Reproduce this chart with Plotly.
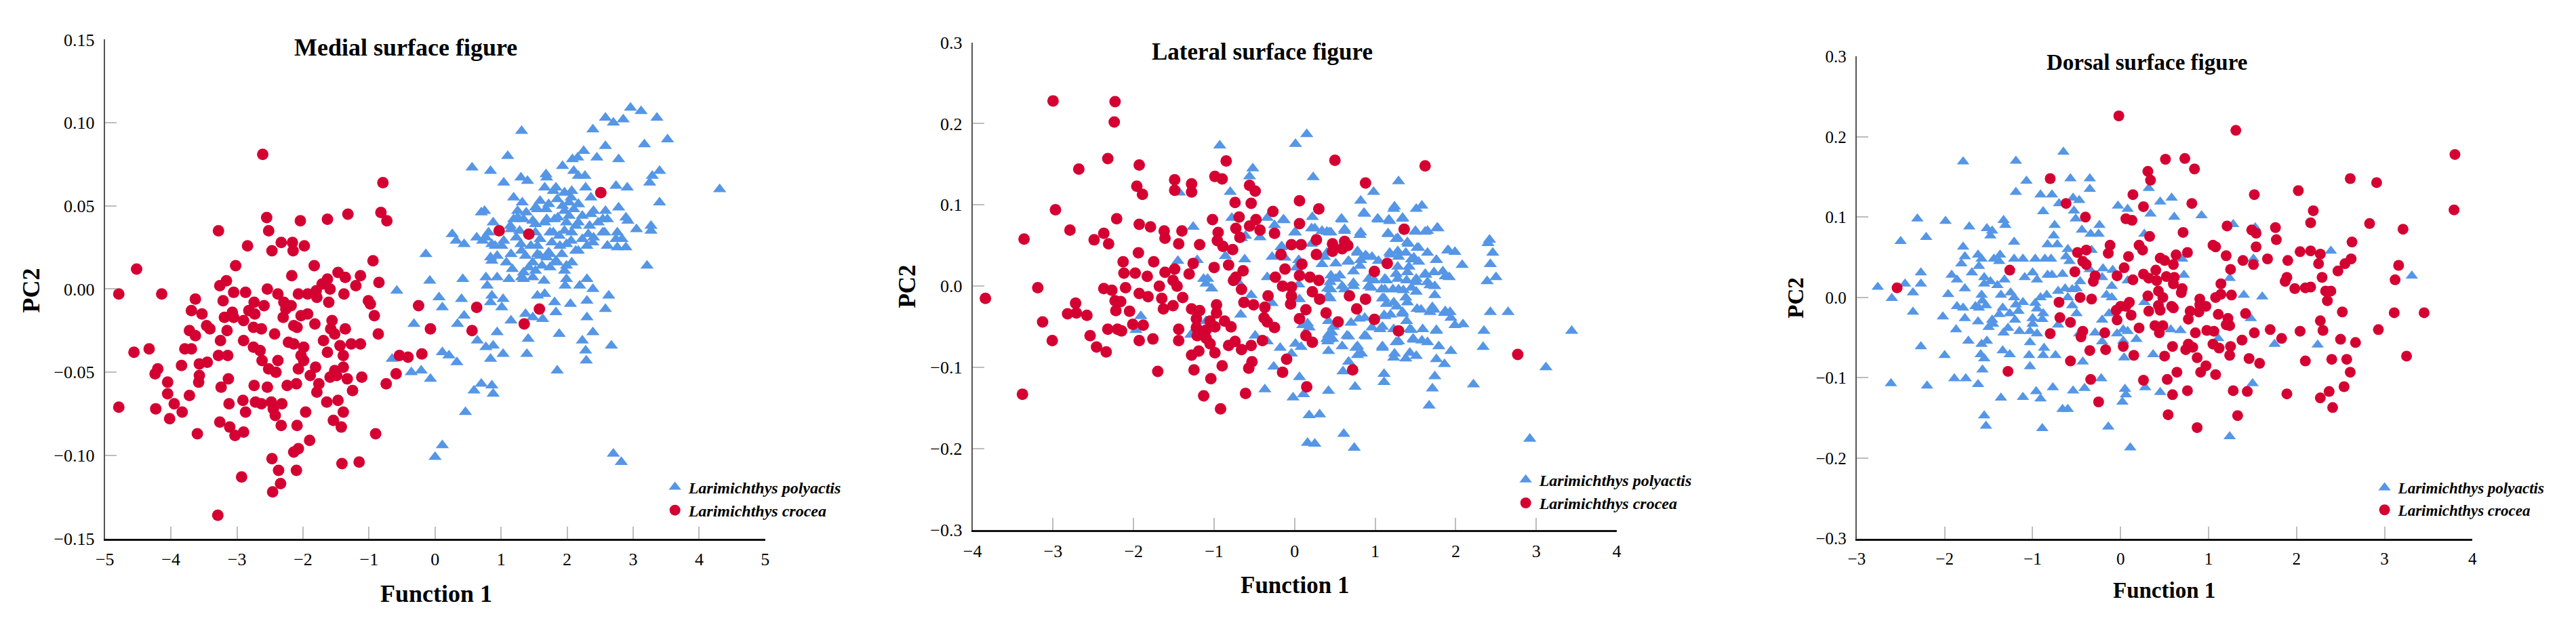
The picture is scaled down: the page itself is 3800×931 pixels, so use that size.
import plotly.graph_objects as go
from plotly.subplots import make_subplots

# Values: Function 1 (x) and PC2 (y) per species

# --- Medial surface ---
MEDIAL_POLY_F1 = [
    2.96, 3.12, 3.36, 2.58, 2.70, 2.85, 2.39, 1.31, 3.52, 3.17,
    2.58, 2.25, 2.45, 2.78, 1.10, 2.08, 2.16, 1.93, 0.56, 0.84,
    3.40, 3.29, 3.25, 1.04, 1.30, 1.40, 1.68, 2.10, 2.17, 2.27,
    4.31, 2.91, 2.74, 2.28, 1.66, 1.79, 1.96, 2.07, 3.40, 1.19,
    1.32, 1.59, 1.85, 2.03, 2.17, 2.36, 2.78, 0.75, 0.70, 1.25,
    1.52, 1.68, 1.96, 2.10, 2.36, 2.58, 2.89, 2.92, 3.27, 3.27,
    3.05, 0.88, 1.19, 1.34, 1.48, 1.66, 1.81, 1.99, 2.17, 2.47,
    2.61, 0.26, 0.32, 0.44, 0.63, 0.72, 0.81, 1.15, 1.23, 1.52,
    1.74, 1.88, 2.07, 2.32, 2.54, 2.76, 2.83, 2.39, 2.61, 2.89,
    2.76, 0.86, 1.01, 1.30, 1.55, 1.77, 1.99, 2.17, -0.14, 0.94,
    1.15, 1.37, 1.59, 1.74, 1.92, 0.86, 1.08, 1.48, 1.85, 2.07,
    3.21, 1.17, 1.34, 1.52, 1.74, 1.96, 0.77, 0.94, 1.12, 1.34,
    1.65, 1.99, 2.30, 1.97, 2.19, 2.39, -0.08, 0.42, -0.58, 0.79,
    0.86, 0.84, 1.03, 1.01, 0.06, 0.40, 0.11, 1.55, 1.66, 1.81,
    1.83, 2.05, 2.30, 2.63, 2.58, 2.30, 0.44, 0.34, -0.32, 1.15,
    1.37, 1.48, 1.63, 0.94, 1.41, 1.88, 2.39, 2.23, 2.67, 0.64,
    0.77, 0.88, 1.03, 0.84, 1.39, 2.28, 2.29, 0.11, 0.21, 0.33,
    -0.65, -0.36, -0.21, -0.07, 1.85, 0.59, 0.70, 0.86, 0.88, 0.46,
    0.11, 0.00, 2.70, 2.82,
    1.69, 1.83, 1.96, 2.06, 2.17, 1.93, 1.72, 1.55, 1.38, 1.25,
    1.14, 1.28, 1.52, 1.69, 1.86, 2.03, 2.23, 2.40, 2.54, 2.34,
    2.13, 1.96, 1.79, 1.59, 1.45, 1.31, 1.55, 1.72, 1.89, 2.06,
    2.23, 2.40, 2.57, 2.74, 2.61, 2.30, 2.13, 1.83, 1.62, 1.42,
    1.99, 1.48, 1.31, 1.69, 1.04, 0.91, 0.84, 0.77,
]
MEDIAL_POLY_PC2 = [
    0.109, 0.107, 0.103, 0.103, 0.100, 0.102, 0.096, 0.095, 0.090, 0.087,
    0.086, 0.083, 0.079, 0.078, 0.080, 0.078, 0.079, 0.074, 0.073, 0.071,
    0.071, 0.068, 0.064, 0.064, 0.067, 0.065, 0.069, 0.071, 0.068, 0.068,
    0.060, 0.061, 0.062, 0.061, 0.061, 0.059, 0.058, 0.059, 0.052, 0.055,
    0.052, 0.053, 0.054, 0.052, 0.051, 0.055, 0.049, 0.047, 0.046, 0.047,
    0.049, 0.048, 0.047, 0.048, 0.045, 0.047, 0.043, 0.041, 0.038, 0.035,
    0.036, 0.040, 0.042, 0.042, 0.041, 0.040, 0.042, 0.040, 0.040, 0.040,
    0.042, 0.033, 0.029, 0.027, 0.031, 0.029, 0.034, 0.036, 0.031, 0.034,
    0.034, 0.032, 0.034, 0.033, 0.034, 0.034, 0.030, 0.028, 0.026, 0.025,
    0.025, 0.027, 0.026, 0.027, 0.026, 0.028, 0.027, 0.023, 0.021, 0.020,
    0.021, 0.020, 0.020, 0.021, 0.021, 0.017, 0.016, 0.016, 0.016, 0.016,
    0.014, 0.012, 0.010, 0.011, 0.013, 0.011, 0.007, 0.007, 0.006, 0.006,
    0.005, 0.006, 0.006, 0.002, 0.002, 0.000, 0.005, 0.006, -0.001, 0.002,
    -0.004, -0.008, -0.006, -0.011, -0.005, -0.006, -0.011, -0.004, -0.003, -0.008,
    -0.014, -0.009, -0.007, -0.004, -0.012, -0.017, -0.016, -0.021, -0.021, -0.019,
    -0.015, -0.017, -0.018, -0.026, -0.030, -0.027, -0.026, -0.031, -0.034, -0.031,
    -0.035, -0.034, -0.039, -0.042, -0.039, -0.037, -0.043, -0.038, -0.040, -0.044,
    -0.042, -0.050, -0.049, -0.054, -0.049, -0.061, -0.057, -0.058, -0.063, -0.074,
    -0.094, -0.101, -0.099, -0.104,
    0.067, 0.061, 0.058, 0.055, 0.051, 0.050, 0.051, 0.048, 0.046, 0.043,
    0.038, 0.035, 0.039, 0.042, 0.043, 0.044, 0.044, 0.047, 0.042, 0.038,
    0.038, 0.035, 0.034, 0.030, 0.026, 0.023, 0.021, 0.022, 0.026, 0.029,
    0.030, 0.031, 0.034, 0.030, 0.026, 0.026, 0.023, 0.017, 0.014, 0.013,
    0.014, 0.007, 0.007, 0.019, 0.029, 0.026, 0.019, 0.031,
]
MEDIAL_CROC_F1 = [
    -2.61, -0.79, -2.55, -2.04, -1.63, -1.32, -0.82, -0.73, -3.28, -2.52,
    -2.84, -2.33, -2.16, -2.15, -2.47, -1.98, -0.94, -4.52, -3.02, -1.83,
    -2.17, -4.79, -4.14, -3.26, -3.16, -3.05, -2.87, -2.54, -2.38, -1.47,
    -1.36, -1.13, -0.85, -1.63, -1.71, -1.80, -1.93, -2.07, -1.59, -1.38,
    -1.20, -1.01, -0.98, -0.92, -0.86, -1.61, -3.63, -3.69, -3.53, -3.21,
    -2.74, -2.59, -2.29, -2.26, -2.30, -2.18, -2.03, -1.93, -1.79, -3.19,
    -3.07, -3.05, -2.90, -2.82, -2.73, -2.75, -2.63, -3.46, -3.41, -3.72,
    -3.63, -3.15, -3.25, -2.43, -2.14, -2.09, -1.82, -1.56, -1.58, -1.52,
    -1.36, -2.90, -2.75, -2.65, -2.22, -2.14, -1.99, -1.69, -1.63, -1.44,
    -1.27, -1.13, -4.33, -4.56, -3.79, -3.69, -3.28, -3.14, -2.62, -2.38,
    -2.03, -1.99, -1.39, -3.84, -3.57, -3.45, -4.20, -4.24, -2.52, -2.41,
    -2.07, -1.81, -1.52, -1.39, -1.49, -1.59, -1.33, -1.11, -0.59, -0.74,
    -0.54, -0.41, -0.20, -0.25, -0.07, -3.57, -3.58, -3.13, -3.24, -4.05,
    -4.05, -3.72, -2.74, -2.54, -2.24, -2.10, -1.89, -1.76, -1.79, -1.25,
    -3.95, -3.83, -4.02, -4.23, -4.79, -3.12, -2.91, -2.87, -2.72, -2.63,
    -2.48, -2.45, -2.42, -2.32, -1.96, -1.64, -1.47, -1.39, -1.54, -1.42,
    -3.26, -3.11, -3.03, -2.90, -3.60, -2.33, -2.09, -1.90, -0.90, -2.14,
    -2.07, -2.47, -2.37, -2.10, -1.41, -1.15, -2.93, -2.34, -2.46, -3.29,
    0.97, 1.42, 2.51, 1.58, 1.35, 0.63, 0.56,
]
MEDIAL_CROC_PC2 = [
    0.081, 0.064, 0.043, 0.041, 0.042, 0.045, 0.046, 0.041, 0.035, 0.035,
    0.026, 0.028, 0.028, 0.023, 0.023, 0.026, 0.017, 0.012, 0.014, 0.014,
    0.008, -0.003, -0.003, 0.002, 0.005, -0.002, -0.002, 0.000, -0.003, 0.010,
    0.007, 0.008, 0.004, 0.006, 0.003, -0.001, -0.003, -0.003, 0.000, -0.003,
    0.002, -0.007, -0.009, -0.016, -0.027, -0.008, -0.006, -0.013, -0.015, -0.007,
    -0.008, -0.010, -0.008, -0.012, -0.017, -0.010, -0.016, -0.015, -0.005, -0.017,
    -0.014, -0.017, -0.019, -0.013, -0.015, -0.023, -0.024, -0.022, -0.024, -0.025,
    -0.028, -0.025, -0.031, -0.027, -0.022, -0.023, -0.021, -0.019, -0.024, -0.027,
    -0.024, -0.031, -0.035, -0.037, -0.032, -0.033, -0.035, -0.031, -0.038, -0.034,
    -0.033, -0.033, -0.036, -0.038, -0.036, -0.036, -0.040, -0.040, -0.043, -0.043,
    -0.040, -0.043, -0.040, -0.046, -0.045, -0.044, -0.048, -0.051, -0.048, -0.050,
    -0.048, -0.047, -0.049, -0.047, -0.052, -0.053, -0.054, -0.053, -0.051, -0.057,
    -0.040, -0.041, -0.039, -0.010, -0.024, -0.052, -0.056, -0.054, -0.059, -0.056,
    -0.063, -0.064, -0.058, -0.059, -0.058, -0.057, -0.052, -0.057, -0.062, -0.061,
    -0.069, -0.074, -0.078, -0.072, -0.071, -0.069, -0.067, -0.074, -0.068, -0.069,
    -0.068, -0.072, -0.076, -0.069, -0.074, -0.068, -0.067, -0.074, -0.079, -0.083,
    -0.080, -0.083, -0.088, -0.086, -0.087, -0.082, -0.082, -0.091, -0.087, -0.098,
    -0.096, -0.102, -0.109, -0.109, -0.105, -0.104, -0.113, -0.117, -0.122, -0.136,
    0.035, 0.033, 0.058, -0.012, -0.021, -0.011, -0.025,
]

# --- Lateral surface ---
LATERAL_POLY_F1 = [
    -0.93, 0.01, 0.15, -0.52, -0.56, 0.23, -0.80, -1.43, -0.78, -0.34,
    -0.14, -0.25, -1.26, 0.22, 0.25, 0.40, 0.01, -0.43, -0.61, -0.17,
    -0.28, -0.12, -0.86, -0.62, -1.45, -1.21, 0.21, 0.40, 0.34, 0.45,
    0.41, 0.02, 0.05, -0.34, -1.08, -1.10, -1.03, -0.70, -0.54, -0.28,
    0.06, 0.44, -0.67, 0.16, 0.42, 0.42, 0.41, 0.18, -0.49, -0.34,
    -0.18, 0.01, 0.08, -0.04, 0.42, -0.26, 0.06, -0.37, -0.02, 0.11,
    0.42, 0.18, 0.31, 0.16, 0.25, -1.91, -1.97, -1.29, -1.10, -0.66,
    -1.13,
    1.29, 0.98, 0.82, 1.24, 1.58, 0.86, 0.58, 1.03, 1.17, 1.34,
    0.82, 1.16, 1.50, 1.65, 1.77, 2.42, 2.40, 2.46, 2.43, 2.50,
    2.39, 1.91, 1.99, 1.76, 2.08, 1.84, 1.92, 1.28, 1.41, 1.52,
    1.28, 1.19, 1.38, 1.48, 0.78, 0.88, 0.96, 0.66, 0.82, 1.28,
    1.42, 1.54, 1.63, 0.73, 0.56, 0.99, 1.14, 1.28, 1.39, 1.51,
    1.65, 1.74, 0.59, 0.73, 0.92, 1.08, 1.22, 1.35, 1.51, 1.74,
    1.11, 1.38, 1.14, 1.27, 1.52, 1.71, 1.68, 1.86, 1.93, 1.94,
    2.43, 2.65, 1.11, 1.19, 1.34, 0.80, 1.09, 0.96, 1.39, 1.45,
    1.76, 1.99, 2.09, 2.35, 3.44, 0.46, 0.47, 0.67, 0.89, 1.29,
    1.47, 1.58, 0.76, 0.83, 1.09, 1.24, 1.38, 1.51, 1.94, 2.34,
    1.76, 1.86, 3.12, 0.67, 0.60, 1.11, 1.11, 0.75, 1.74, 1.71,
    2.22, 1.67, 0.61, 2.92, 0.74,
    -0.13, 0.00, 0.21, 0.34, 0.43, 0.62, -0.16, 0.05, 0.44, 0.10,
    0.40,
    0.59, 0.87, 1.04, 1.18, 1.34, 1.51, 1.23, 1.78, 1.62, 1.50,
    1.16, 1.26, 1.40, 1.54, 1.65, 1.90, 1.76, 1.45, 1.29, 1.18,
    1.04, 0.90, 0.78, 0.81, 0.62, 0.45, 0.37, 0.51, 0.67, 0.81,
    0.92, 1.12, 1.26, 1.40, 1.51, 1.62, 1.73, 1.87, 1.68, 1.45,
    1.29, 1.12, 0.95, 0.73, 0.51, 0.45, 0.62, 0.42, 1.09, 1.23,
    1.40, 1.57, 1.73, 1.87, 1.34, 1.12, 0.87, 0.70, 0.48, 0.65,
    0.87, 1.06, 1.23, 1.43, 1.59, 1.76, 0.42, 0.59, 0.78, 1.09,
    1.26, 1.48, 1.65, 1.79, 1.43, 1.23, 0.78,
]
LATERAL_POLY_PC2 = [
    0.173, 0.175, 0.187, 0.145, 0.135, 0.134, 0.116, 0.115, 0.084, 0.084,
    0.082, 0.075, 0.073, 0.085, 0.071, 0.067, 0.066, 0.060, 0.062, 0.048,
    0.036, 0.035, 0.037, 0.033, 0.031, 0.032, 0.052, 0.041, 0.027, 0.013,
    -0.003, 0.023, 0.002, 0.011, 0.009, 0.003, -0.003, 0.005, -0.011, -0.021,
    -0.016, -0.015, -0.035, -0.046, -0.043, -0.060, -0.068, -0.051, -0.061, -0.068,
    -0.076, -0.071, -0.075, -0.083, -0.080, -0.099, -0.112, -0.127, -0.137, -0.133,
    -0.129, -0.159, -0.158, -0.193, -0.194, -0.037, -0.054, -0.060, -0.043, 0.059,
    0.009,
    0.129, 0.116, 0.105, 0.098, 0.099, 0.090, 0.083, 0.083, 0.082, 0.084,
    0.066, 0.065, 0.068, 0.068, 0.072, 0.057, 0.053, 0.041, 0.027, 0.011,
    0.006, 0.044, 0.042, 0.032, 0.026, 0.018, 0.011, 0.059, 0.052, 0.047,
    0.043, 0.039, 0.041, 0.035, 0.043, 0.038, 0.036, 0.030, 0.032, 0.024,
    0.024, 0.030, 0.014, 0.018, 0.013, 0.007, 0.007, 0.009, 0.007, 0.005,
    0.005, 0.000, 0.000, 0.000, 0.000, -0.004, -0.004, -0.005, -0.007, -0.011,
    -0.015, -0.014, -0.022, -0.025, -0.028, -0.026, -0.032, -0.033, -0.032, -0.039,
    -0.032, -0.032, -0.036, -0.035, -0.032, -0.040, -0.050, -0.051, -0.043, -0.054,
    -0.054, -0.048, -0.047, -0.055, -0.055, -0.057, -0.065, -0.062, -0.062, -0.068,
    -0.065, -0.067, -0.076, -0.083, -0.076, -0.083, -0.089, -0.086, -0.080, -0.075,
    -0.090, -0.096, -0.100, -0.093, -0.105, -0.108, -0.118, -0.124, -0.111, -0.126,
    -0.121, -0.147, -0.182, -0.188, -0.199,
    0.081, 0.066, 0.071, 0.068, 0.066, 0.070, 0.049, 0.032, 0.005, -0.048,
    -0.065,
    0.082, 0.089, 0.082, 0.080, 0.083, 0.095, 0.095, 0.071, 0.067, 0.067,
    0.064, 0.058, 0.054, 0.047, 0.041, 0.044, 0.032, 0.033, 0.036, 0.041,
    0.031, 0.036, 0.041, 0.063, 0.068, 0.066, 0.036, 0.028, 0.031, 0.025,
    0.009, 0.009, 0.015, 0.017, 0.009, 0.015, 0.017, 0.012, 0.001, -0.002,
    -0.004, -0.004, -0.002, 0.004, 0.009, -0.004, -0.004, -0.012, -0.015, -0.020,
    -0.020, -0.029, -0.029, -0.031, -0.034, -0.037, -0.039, -0.045, -0.050, -0.061,
    -0.061, -0.053, -0.053, -0.053, -0.053, -0.055, -0.066, -0.074, -0.074, -0.074,
    -0.069, -0.066, -0.069, -0.074, -0.082, -0.088, -0.085,
]
LATERAL_CROC_F1 = [
    -3.00, -2.23, -2.24, -2.32, -2.68, -1.93, -0.85, 0.50, -0.99, -0.90,
    -1.49, -1.49, -1.28, -1.28, -1.96, -1.89, -0.56, -0.49, -0.74, -0.54,
    0.06, 0.30, -2.97, -2.21, -0.27, -1.02, -0.69, -0.48, 0.06, -1.93,
    -1.79, -1.62, -1.40, -2.79, -3.36, -2.37, -2.49, -2.31, -1.61, -1.44,
    -1.18, -0.95, -0.96, -0.73, -0.68, -0.56, -0.43, -0.25, -0.89, -0.77,
    -0.04, 0.08, 0.27, 0.27, 0.47, 0.47, -1.94, -2.13, -1.75, -0.17,
    -1.26, -0.82, -1.00, -0.12, 0.09, -2.12, -1.98, -1.83, -1.61, -1.49,
    -1.31, -0.64, -0.73, -0.76, 0.06, 0.19, 0.30, -0.24, -3.19, -3.84,
    -2.37, -2.27, -2.10, -1.68, -1.51, -1.46, -0.15, -0.04, -0.66, -1.93,
    -1.82, -1.65, -1.39, -0.04, 0.22, 0.31, -0.33, -2.72, -2.23, -2.16,
    -2.22, -2.82, -2.71, -2.58, -3.13, -2.05, -1.63, -1.51, -0.63, -0.51,
    -0.37, -0.05, 0.14, 0.06, 0.39, 0.54, -1.28, -1.18, -0.97, -0.97,
    -1.22, -1.05, -0.87, -0.79, -0.38, -0.34, -0.25, -2.01, -1.88, -2.32,
    -2.20, -2.15, -1.44, -1.22, -1.10, -0.99, -1.21, -1.10, -2.54, -3.01,
    -1.93, -1.76, -1.44, -2.46, -2.34, -1.05, -0.99, -1.28, -1.19, -0.82,
    -0.74, -0.66, -0.54, -0.40, 0.14, 0.22, -0.53, -0.57, -0.10, -0.15,
    -0.90, -1.25, -1.70, -1.04, 0.15, -3.38, -1.13, -0.61, -0.92,
    1.62, 0.88, 1.36, 0.62, 0.66, 0.59, 1.15, 0.99, 0.68, 0.88,
    0.77, 0.99, 1.29, 0.72, 2.77,
]
LATERAL_CROC_PC2 = [
    0.228, 0.227, 0.202, 0.157, 0.144, 0.149, 0.154, 0.155, 0.135, 0.132,
    0.131, 0.118, 0.126, 0.116, 0.123, 0.113, 0.124, 0.117, 0.103, 0.102,
    0.105, 0.095, 0.094, 0.083, 0.092, 0.082, 0.085, 0.082, 0.077, 0.076,
    0.073, 0.068, 0.068, 0.069, 0.058, 0.065, 0.057, 0.052, 0.059, 0.052,
    0.051, 0.066, 0.056, 0.071, 0.060, 0.074, 0.069, 0.065, 0.049, 0.045,
    0.051, 0.051, 0.057, 0.039, 0.052, 0.043, 0.041, 0.030, 0.030, 0.039,
    0.028, 0.026, 0.023, 0.021, 0.027, 0.016, 0.016, 0.012, 0.017, 0.021,
    0.015, 0.019, 0.011, 0.007, 0.013, 0.011, 0.007, 0.011, -0.002, -0.015,
    -0.003, -0.005, -0.002, 0.000, 0.007, 0.000, 0.000, -0.001, -0.004, -0.009,
    -0.013, -0.015, -0.014, -0.012, -0.007, -0.016, -0.012, -0.021, -0.018, -0.019,
    -0.030, -0.034, -0.033, -0.036, -0.044, -0.031, -0.028, -0.024, -0.020, -0.023,
    -0.026, -0.022, -0.029, -0.040, -0.033, -0.044, -0.028, -0.030, -0.023, -0.033,
    -0.040, -0.043, -0.043, -0.050, -0.039, -0.044, -0.051, -0.047, -0.048, -0.053,
    -0.053, -0.055, -0.053, -0.051, -0.054, -0.050, -0.061, -0.064, -0.061, -0.067,
    -0.067, -0.065, -0.067, -0.075, -0.081, -0.071, -0.082, -0.085, -0.080, -0.073,
    -0.068, -0.078, -0.073, -0.067, -0.061, -0.069, -0.093, -0.101, -0.090, -0.106,
    -0.098, -0.103, -0.105, -0.114, -0.124, -0.133, -0.135, -0.132, -0.151,
    0.148, 0.127, 0.070, 0.055, 0.050, 0.046, 0.028, 0.018, -0.012, -0.016,
    -0.028, -0.041, -0.055, -0.103, -0.084,
]

# --- Dorsal surface ---
DORSAL_POLY_F1 = [
    -0.65, -1.79, -1.19, -1.07, -0.57, -0.35, -0.35, -1.19, -0.91, -0.78,
    -0.54, -0.47, -0.70, -0.53, -0.88, -0.51, 0.32, -0.03, 0.08, 0.45,
    0.58, 0.34, 0.61, 0.92, -2.31, -1.99, -1.72, -1.52, -1.46, -1.33,
    -1.31, -2.50, -2.21, -1.48, -1.21, -0.75, -0.76, -0.83, -0.72, -0.44,
    -0.34, -0.24, -0.25, 0.27, -1.79, -1.77, -1.81, -1.62, -1.58, -1.61,
    -1.44, -1.37, -1.38, -1.21, -1.11, -0.97, -0.86, -0.79, -0.60, -0.62,
    -0.58, -0.33, 0.70, -2.27, -2.27, -2.45, -2.76, -2.36, -2.60, -1.92,
    -1.86, -1.96, -1.77, -1.69, -1.55, -1.55, -1.48, -1.40, -1.32, -1.09,
    -1.00, -0.95, -0.83, -0.78, -0.66, -0.46, -0.35, -0.20, -0.09, -0.21,
    -0.10, 0.08, 0.72, -1.58, -1.57, -1.86, -1.79, -1.65, -1.61, -1.53,
    -1.36, -1.34, -1.25, -1.21, -1.19, -1.16, -1.26, -1.11, -0.97, -0.91,
    -0.84, -0.95, -0.88, -0.71, -0.63, -0.55, -0.50, -0.60, -0.55, -0.50,
    -0.16, -0.10, -0.13, -0.21, 0.27, -2.02, -2.36, -1.77, -1.62, -1.46,
    -1.45, -1.38, -1.20, -1.00, -1.00, -0.89, -1.87, -1.50, -1.33, -1.28,
    -1.15, -1.03, -0.95, -0.71, -0.47, -0.29, -0.04, 0.03, 0.08, 0.18,
    0.57, 0.68, -1.73, -1.58, -1.52, -1.03, -0.21, 0.03, -2.27, -2.00,
    -1.59, -1.55, -1.34, -1.26, -1.04, -0.87, -0.88, -0.74, 0.04, 0.37,
    -0.43, -1.57, -1.03, -2.61, -2.20, -1.89, -1.76, -1.62, -1.36, -1.11,
    -0.96, -0.91, -0.77, -0.54, -0.41, -0.22, 0.05, 0.06, 0.02, 0.28,
    0.45, -0.66, -0.60, -1.55, -1.53, -0.89, -0.14, 0.11, 1.24,
    1.28, 1.53, 1.51, 2.39, 1.24, 1.40, 1.61, 3.31, 1.48, 1.75,
    2.24, 1.11, 1.50,
]
DORSAL_POLY_PC2 = [
    0.181, 0.169, 0.170, 0.145, 0.148, 0.148, 0.135, 0.131, 0.128, 0.128,
    0.124, 0.121, 0.117, 0.108, 0.107, 0.098, 0.136, 0.114, 0.110, 0.119,
    0.124, 0.104, 0.100, 0.102, 0.098, 0.095, 0.088, 0.086, 0.083, 0.096,
    0.090, 0.070, 0.075, 0.077, 0.069, 0.090, 0.077, 0.066, 0.066, 0.084,
    0.079, 0.090, 0.079, 0.079, 0.063, 0.051, 0.042, 0.053, 0.048, 0.039,
    0.048, 0.053, 0.045, 0.048, 0.048, 0.048, 0.048, 0.048, 0.060, 0.051,
    0.045, 0.059, 0.048, 0.031, 0.017, 0.017, 0.013, 0.006, -0.001, 0.028,
    0.022, 0.004, 0.011, 0.031, 0.025, 0.017, 0.020, 0.015, 0.022, 0.025,
    0.031, 0.022, 0.028, 0.028, 0.029, 0.020, 0.035, 0.036, 0.034, 0.025,
    0.014, 0.021, 0.028, 0.003, -0.004, -0.011, -0.013, -0.011, -0.013, -0.010,
    0.003, -0.013, 0.006, 0.000, -0.009, -0.017, -0.020, -0.006, -0.007, 0.000,
    0.003, -0.014, -0.020, 0.008, 0.011, 0.010, 0.011, 0.000, -0.010, -0.020,
    0.003, 0.000, -0.020, -0.028, -0.006, -0.024, -0.018, -0.026, -0.030, -0.028,
    -0.033, -0.021, -0.028, -0.033, -0.026, -0.027, -0.040, -0.037, -0.044, -0.038,
    -0.042, -0.042, -0.045, -0.034, -0.045, -0.044, -0.045, -0.040, -0.042, -0.052,
    -0.040, -0.041, -0.054, -0.058, -0.054, -0.056, -0.055, -0.054, -0.061, -0.072,
    -0.071, -0.076, -0.066, -0.071, -0.072, -0.063, -0.072, -0.072, -0.075, -0.071,
    -0.080, -0.090, -0.086, -0.107, -0.110, -0.101, -0.101, -0.108, -0.125, -0.124,
    -0.117, -0.126, -0.112, -0.116, -0.113, -0.101, -0.114, -0.121, -0.130, -0.112,
    -0.118, -0.139, -0.139, -0.147, -0.160, -0.163, -0.161, -0.187, -0.173,
    0.091, 0.087, 0.048, 0.058, 0.024, 0.003, 0.001, 0.027, -0.026, -0.058,
    -0.059, -0.051, -0.107,
]
DORSAL_CROC_F1 = [
    -0.02, -0.80, 0.51, 0.73, 0.84, 0.31, 0.34, -0.62, 0.14, 0.26,
    0.81, -0.40, 0.06, 0.13, 1.21, 0.71, 0.33, 0.21, 0.25, -0.12,
    -0.14, -0.49, -0.39, 0.09, 0.63, 0.76, 1.05, 1.08, 1.20, -0.43,
    -0.39, 0.45, 0.50, 0.60, 0.04, -1.26, -0.52, 0.40, 1.25, -0.29,
    -0.31, -0.04, 0.14, 0.26, 0.32, 0.41, 0.52, 0.61, 0.60, 1.14,
    0.70, 0.69, -2.54, 0.43, 0.48, 0.31, 0.90, 1.08, 1.14, 1.26,
    -0.46, -0.33, -0.70, 0.10, 0.00, -0.05, 0.06, 0.12, 0.43, 0.45,
    0.58, 0.60, 0.32, 0.90, 0.97, 0.79, 0.89, 1.11, 0.77, 1.22,
    1.20, -0.69, -0.57, -0.04, 0.21, 0.39, 0.48, 0.44, 0.85, 0.98,
    1.06, 1.24, -0.80, -0.43, -0.45, -0.18, 0.03, -0.35, -0.17, 0.15,
    0.59, 0.77, 0.74, 0.82, 1.05, 1.12, 1.25, 0.50, 0.87, 1.24,
    -0.57, 0.97, 0.91, 1.08, 0.64, -1.28, -0.34, 0.26, 0.53, 0.76,
    0.59, -0.25, 0.54, 0.87,
    1.31, 3.80, 2.61, 2.91, 2.02, 1.52, 2.19, 3.79, 2.16, 2.83,
    3.21, 1.49, 1.54, 1.76, 1.77, 1.54, 2.63, 2.04, 2.16, 2.27,
    1.67, 1.90, 1.39, 1.51, 2.25, 2.55, 2.62, 2.47, 3.16, 3.12,
    1.89, 1.87, 2.29, 1.98, 2.10, 2.16, 2.33, 2.39, 2.35, 2.52,
    3.11, 3.45, 2.27, 2.30, 1.42, 1.52, 1.70, 1.83, 2.04, 2.93,
    1.38, 2.50, 2.67, 3.25, 1.46, 1.58, 2.10, 2.40, 2.57, 2.61,
    2.54, 2.37, 2.27, 2.41, 1.89, 1.44, 1.33, 1.28,
]
DORSAL_CROC_PC2 = [
    0.226, 0.148, 0.172, 0.173, 0.160, 0.157, 0.146, 0.117, 0.128, 0.113,
    0.117, 0.100, 0.098, 0.096, 0.089, 0.081, 0.076, 0.065, 0.059, 0.065,
    0.055, 0.056, 0.059, 0.051, 0.053, 0.056, 0.065, 0.063, 0.052, 0.045,
    0.041, 0.049, 0.046, 0.041, 0.037, 0.034, 0.032, 0.034, 0.035, 0.027,
    0.020, 0.027, 0.022, 0.029, 0.024, 0.021, 0.026, 0.025, 0.017, 0.017,
    0.011, 0.006, 0.012, 0.008, 0.000, 0.002, -0.002, 0.000, 0.004, 0.003,
    0.000, -0.002, -0.006, -0.006, -0.011, -0.016, -0.011, -0.022, -0.010, -0.016,
    -0.011, -0.013, -0.017, -0.009, -0.011, -0.017, -0.018, -0.021, -0.027, -0.026,
    -0.034, -0.025, -0.031, -0.028, -0.038, -0.035, -0.035, -0.044, -0.044, -0.041,
    -0.042, -0.035, -0.045, -0.042, -0.049, -0.044, -0.061, -0.066, -0.065, -0.072,
    -0.061, -0.058, -0.065, -0.062, -0.058, -0.063, -0.061, -0.073, -0.075, -0.072,
    -0.079, -0.085, -0.093, -0.096, -0.093, -0.092, -0.102, -0.103, -0.102, -0.116,
    -0.121, -0.130, -0.146, -0.162,
    0.208, 0.178, 0.148, 0.143, 0.133, 0.128, 0.108, 0.109, 0.093, 0.092,
    0.085, 0.084, 0.080, 0.087, 0.072, 0.063, 0.069, 0.057, 0.058, 0.054,
    0.048, 0.046, 0.046, 0.041, 0.042, 0.042, 0.048, 0.033, 0.040, 0.022,
    0.025, 0.020, 0.025, 0.011, 0.012, 0.013, 0.008, 0.008, -0.004, -0.018,
    -0.019, -0.019, -0.029, -0.041, -0.020, -0.044, -0.040, -0.051, -0.042, -0.040,
    -0.053, -0.052, -0.056, -0.073, -0.076, -0.082, -0.079, -0.077, -0.077, -0.093,
    -0.111, -0.117, -0.125, -0.137, -0.120, -0.117, -0.147, -0.116,
]

SPECIES = ["Larimichthys polyactis", "Larimichthys crocea"]

BLUE = "#5596E6"
RED = "#D50032"
SERIF = "Liberation Serif"

# the page keeps the browser's 8px body margin, so the figure is 16px smaller
PAGE_PAD = 8
FIG_W = 3800 - 2 * PAGE_PAD
FIG_H = 931 - 2 * PAGE_PAD


def paper_x(px):
    return (px - PAGE_PAD) / FIG_W


def paper_y(py):
    return 1 - (py - PAGE_PAD) / FIG_H


# placement of every panel, in page pixels measured on the reference
PANELS = [
    dict(title="Medial surface figure",
         poly=(MEDIAL_POLY_F1, MEDIAL_POLY_PC2), croc=(MEDIAL_CROC_F1, MEDIAL_CROC_PC2),
         box=(141.5, 1121.0, 45.6, 805.8), x_range=[-5, 5],
         y_range=[-0.15, 0.15], y_dtick=0.05, y_fmt=".2f",
         title_at=(588, 58), xlab_at=(633, 890), ylab_at=(32, 428),
         legend_at=(987, 725), big=36, tick=26, leg=24, marker=17),
    dict(title="Lateral surface figure",
         poly=(LATERAL_POLY_F1, LATERAL_POLY_PC2), croc=(LATERAL_CROC_F1, LATERAL_CROC_PC2),
         box=(1428.5, 2384.2, 49.9, 792.7), x_range=[-4, 4],
         y_range=[-0.3, 0.3], y_dtick=0.1, y_fmt=".1f",
         title_at=(1858, 64), xlab_at=(1907, 877), ylab_at=(1332, 422),
         legend_at=(2249, 714), big=35, tick=26, leg=24, marker=17),
    dict(title="Dorsal surface figure",
         poly=(DORSAL_POLY_F1, DORSAL_POLY_PC2), croc=(DORSAL_CROC_F1, DORSAL_CROC_PC2),
         box=(2740.0, 3653.6, 71.3, 805.8), x_range=[-3, 4],
         y_range=[-0.3, 0.3], y_dtick=0.1, y_fmt=".1f",
         title_at=(3171, 80), xlab_at=(3196, 885), ylab_at=(2650, 439),
         legend_at=(3523, 726), big=33, tick=25, leg=23, marker=16),
]

fig = make_subplots(rows=1, cols=3)
annotations = []
layout_extra = {}

for i, p in enumerate(PANELS):
    col = i + 1
    legend_id = "legend" if i == 0 else f"legend{col}"

    fig.add_trace(
        go.Scatter(
            x=p["poly"][0], y=p["poly"][1], mode="markers",
            name=f"<b><i>{SPECIES[0]}</i></b>", legend=legend_id,
            marker=dict(symbol="triangle-up", size=p["marker"], color=BLUE,
                        line=dict(width=0)),
        ),
        row=1, col=col,
    )
    fig.add_trace(
        go.Scatter(
            x=p["croc"][0], y=p["croc"][1], mode="markers",
            name=f"<b><i>{SPECIES[1]}</i></b>", legend=legend_id,
            marker=dict(symbol="circle", size=p["marker"], color=RED,
                        line=dict(width=0)),
        ),
        row=1, col=col,
    )

    x0, x1, ytop, ybot = p["box"]
    fig.update_xaxes(
        domain=[paper_x(x0), paper_x(x1)], range=p["x_range"], dtick=1,
        showline=True, linecolor="#111111", linewidth=2.5,
        ticks="inside", ticklen=18, tickwidth=2, tickcolor="#BDBDBD",
        showgrid=False, zeroline=False, ticklabelstandoff=6,
        tickfont=dict(family=SERIF, size=p["tick"], color="black"),
        row=1, col=col,
    )
    fig.update_yaxes(
        domain=[paper_y(ybot), paper_y(ytop)], range=p["y_range"],
        dtick=p["y_dtick"], tickformat=p["y_fmt"],
        showline=True, linecolor="#555555", linewidth=2,
        ticks="inside", ticklen=17, tickwidth=2, tickcolor="#BDBDBD",
        showgrid=False, zeroline=False, ticklabelstandoff=8,
        tickfont=dict(family=SERIF, size=p["tick"], color="black"),
        row=1, col=col,
    )

    # panel title and axis titles
    annotations.append(dict(
        text=f"<b>{p['title']}</b>", x=paper_x(p["title_at"][0]), y=paper_y(p["title_at"][1]),
        xref="paper", yref="paper", xanchor="center", yanchor="middle", showarrow=False,
        font=dict(family=SERIF, size=p["big"], color="black"),
    ))
    annotations.append(dict(
        text="<b>Function 1</b>", x=paper_x(p["xlab_at"][0]), y=paper_y(p["xlab_at"][1]),
        xref="paper", yref="paper", xanchor="center", yanchor="middle", showarrow=False,
        font=dict(family=SERIF, size=p["big"], color="black"),
    ))
    annotations.append(dict(
        text="<b>PC2</b>", x=paper_x(p["ylab_at"][0]), y=paper_y(p["ylab_at"][1]),
        xref="paper", yref="paper", xanchor="center", yanchor="middle", showarrow=False,
        textangle=-90, font=dict(family=SERIF, size=p["big"], color="black"),
    ))

    lx, ly = p["legend_at"]
    row_h = p["leg"] * 1.3
    layout_extra[legend_id] = dict(
        x=paper_x(lx - 20), y=paper_y(ly - 5 - row_h / 2),
        xanchor="left", yanchor="top",
        bgcolor="rgba(0,0,0,0)", borderwidth=0,
        font=dict(family=SERIF, size=p["leg"], color="black"),
    )

fig.update_layout(
    width=FIG_W,
    height=FIG_H,
    margin=dict(l=0, r=0, t=0, b=0),
    paper_bgcolor="white",
    plot_bgcolor="white",
    showlegend=True,
    annotations=annotations,
    **layout_extra,
)

fig.write_html("out.html")
